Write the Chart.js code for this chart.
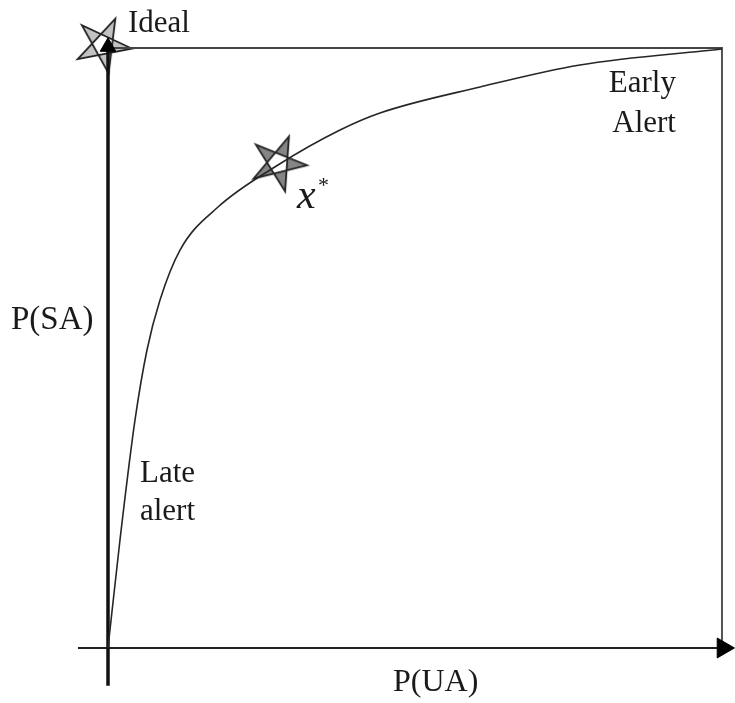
<!DOCTYPE html>
<html>
<head>
<meta charset="utf-8">
<script src="https://cdn.jsdelivr.net/npm/chart.js@4/dist/chart.umd.min.js"></script>
<style>
  body { margin: 0; background: #fff; }
  #wrap { width: 735px; height: 703px; }
</style>
</head>
<body>
<div id="wrap"><canvas id="myChart"></canvas></div>
<script>
"use strict";

// Trade-off curve, P(UA) on x and P(SA) on y
const curveUA = [0, 0.0195, 0.044, 0.0635, 0.0847, 0.1173, 0.1792, 0.2769, 0.3779, 0.443, 0.6059, 0.7687, 1.0];
const curveSA = [0, 0.18, 0.38, 0.4967, 0.58, 0.6633, 0.735, 0.805, 0.8633, 0.8917, 0.935, 0.9717, 0.9983];

// Marked points: ideal corner and the chosen threshold x*
const idealPoint = { x: -0.008, y: 1.005 };
const optimumPoint = { x: 0.277, y: 0.808 };

// Axis extents (in the same units)
const axisUA = [-0.049, 1.0];
const axisSA = [-0.063, 1.013];

const labels = ["Ideal", "P(SA)", "P(UA)", "Late", "alert", "Early", "Alert"];

// Draws a pentagram (even-odd fill) on a small canvas, used as a point style
function makeStar(fill, rot) {
	const c = document.createElement("canvas");
	c.width = 72;
	c.height = 72;
	const g = c.getContext("2d");
	const r = 29;
	const pts = [];
	for (let k = 0; k < 5; k++) {
		const a = (rot + k * 72 - 90) * Math.PI / 180;
		pts.push([36 + r * Math.cos(a), 36 + r * Math.sin(a)]);
	}
	g.beginPath();
	for (let k = 0; k < 5; k++) {
		const p = pts[(k * 2) % 5];
		if (k === 0) g.moveTo(p[0], p[1]);
		else g.lineTo(p[0], p[1]);
	}
	g.closePath();
	g.fillStyle = fill;
	g.fill("evenodd");
	g.strokeStyle = "#222";
	g.lineWidth = 1.8;
	g.stroke();
	return c;
}

const curve = curveUA.map(function (v, i) {
	return { x: v, y: curveSA[i] };
});

// Text labels are placed with the chart's own scales
const textPlugin = {
	id: "texts",
	afterDatasetsDraw(chart) {
		const ctx = chart.ctx;
		const xs = chart.scales.x;
		const ys = chart.scales.y;
		function put(text, x, y, font, align) {
			ctx.font = font;
			ctx.textAlign = align || "left";
			ctx.textBaseline = "alphabetic";
			ctx.fillStyle = "#1a1a1a";
			ctx.fillText(text, xs.getPixelForValue(x), ys.getPixelForValue(y));
		}
		const serif = "'Liberation Serif', 'DejaVu Serif', serif";
		ctx.save();
		put(labels[0], 0.0326, 1.0267, "31px " + serif);
		put(labels[1], -0.158, 0.532, "33px " + serif);
		put(labels[2], 0.4642, -0.0717, "32px " + serif);
		put(labels[3], 0.0521, 0.2767, "31px " + serif);
		put(labels[4], 0.0521, 0.2133, "31px " + serif);
		put(labels[5], 0.925, 0.927, "31px " + serif, "right");
		put(labels[6], 0.925, 0.86, "31px " + serif, "right");
		put("x", 0.3078, 0.7333, "italic 42px " + serif);
		put("*", 0.342, 0.76, "22px " + serif);
		ctx.restore();
	}
};

const ctx = document.getElementById("myChart");

new Chart(ctx, {
	type: "scatter",
	data: {
		datasets: [
			{
				// black arrow tip at the top of the P(SA) axis
				data: [{ x: 0, y: 1.002 }],
				pointStyle: "triangle",
				pointRadius: 9,
				backgroundColor: "#000",
				borderColor: "#000",
				borderWidth: 1,
				order: 0
			},
			{
				// arrow head of the P(UA) axis
				data: [{ x: 1.0016, y: 0 }],
				pointStyle: "triangle",
				rotation: 90,
				pointRadius: 11.5,
				backgroundColor: "#000",
				borderColor: "#000",
				borderWidth: 1,
				order: 1
			},
			{
				data: curve,
				showLine: true,
				cubicInterpolationMode: "monotone",
				borderColor: "#262626",
				borderWidth: 1.6,
				pointRadius: 0,
				order: 2
			},
			{
				data: [optimumPoint],
				pointStyle: makeStar("#858585", 22),
				order: 3
			},
			{
				// P(SA) axis
				data: [{ x: 0, y: axisSA[0] }, { x: 0, y: axisSA[1] }],
				showLine: true,
				borderColor: "#111",
				borderWidth: 3.5,
				pointRadius: 0,
				order: 4
			},
			{
				// P(UA) axis
				data: [{ x: axisUA[0], y: 0 }, { x: axisUA[1], y: 0 }],
				showLine: true,
				borderColor: "#222",
				borderWidth: 2,
				pointRadius: 0,
				order: 5
			},
			{
				// upper and right edges of the unit box
				data: [{ x: 0, y: 1 }, { x: 1, y: 1 }, { x: 1, y: 0 }],
				showLine: true,
				borderColor: "#444",
				borderWidth: 1.8,
				pointRadius: 0,
				order: 6
			},
			{
				data: [idealPoint],
				pointStyle: makeStar("#c2c2c2", 25),
				order: 7
			}
		]
	},
	options: {
		responsive: true,
		maintainAspectRatio: false,
		animation: false,
		layout: { padding: 0, autoPadding: false },
		plugins: {
			legend: { display: false },
			tooltip: { enabled: false }
		},
		scales: {
			x: { type: "linear", min: -0.1759, max: 1.0212, display: false },
			y: { type: "linear", min: -0.0917, max: 1.08, display: false }
		}
	},
	plugins: [textPlugin]
});
</script>
</body>
</html>
